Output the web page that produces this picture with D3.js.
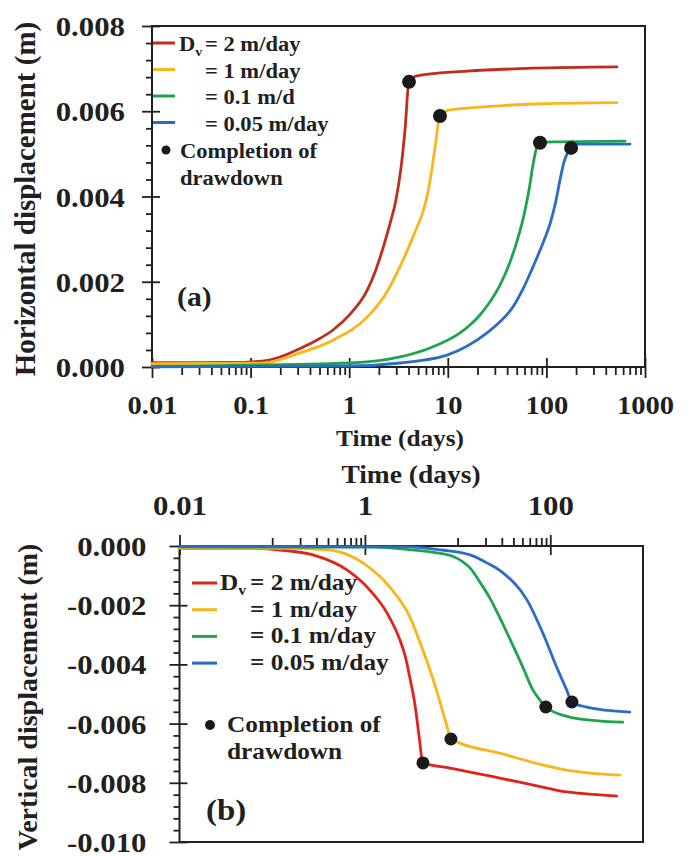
<!DOCTYPE html>
<html>
<head>
<meta charset="utf-8">
<script src="https://cdn.jsdelivr.net/npm/d3@7"></script>
<style>
  body { margin: 0; background: #fff; }
  svg { display: block; }
  text { font-family: "Liberation Serif", "Times New Roman", serif; font-weight: bold; fill: #231f20; }
</style>
</head>
<body>
<svg id="chart" width="692" height="856"></svg>
<script>
// ---- tick values ----
const timeTicksTop = [0.01, 0.1, 1, 10, 100, 1000];
const timeTicksBottom = [0.01, 1, 100];
const horizTicks = [0, 0.002, 0.004, 0.006, 0.008];
const vertTicks = [0, -0.002, -0.004, -0.006, -0.008, -0.010];

// ---- series labels (vertical hydraulic diffusivity) ----
const dvLabelsTop = ["2 m/day", "1 m/day", "0.1 m/d", "0.05 m/day"];
const dvLabelsBottom = ["2 m/day", "1 m/day", "0.1 m/day", "0.05 m/day"];
const colorsTop = ["#bf2e1d", "#fbb519", "#1fa44c", "#2a6cc6"];
const colorsBottom = ["#e2231a", "#fbb519", "#1fa44c", "#2a6cc6"];

// ---- horizontal displacement (m) vs time (days) ----
const hDv2 = [[0.01,0.0001],[0.062,0.000106],[0.131,0.00014],[0.199,0.000235],[0.317,0.000434],[0.472,0.000633],[0.685,0.000868],[1.02,0.00124],[1.52,0.0018],[1.83,0.00223],[2.2,0.00279],[2.59,0.00336],[2.98,0.00392],[3.35,0.00467],[3.68,0.00556],[4.04,0.00669],[4.87,0.00683],[15.7,0.00694],[73,0.00701],[520,0.00704]];
const hDv1 = [[0.01,0.00008],[0.131,0.00009],[0.317,0.00033],[0.685,0.00063],[1.52,0.00117],[2.31,0.00169],[3.27,0.00235],[4.87,0.00328],[5.47,0.00357],[6.15,0.004],[6.75,0.0045],[7.41,0.00514],[8.33,0.00589],[10.5,0.00603],[30,0.00612],[73,0.00617],[520,0.0062]];
const hDv01 = [[0.01,0.000012],[1.02,0.000094],[3.27,0.000235],[6.61,0.000446],[13.3,0.0008],[16.8,0.000985],[21.2,0.00122],[26.8,0.00153],[33.8,0.00192],[42.7,0.00246],[51.5,0.00303],[59.3,0.00357],[66.6,0.00415],[73.1,0.00474],[78.4,0.00509],[86.1,0.00526],[117,0.00528],[627,0.0053]];
const hDv005 = [[0.01,0.000005],[1.02,0.000023],[3.27,0.000094],[9.81,0.00028],[25,0.0008],[33.8,0.00106],[45.8,0.00141],[57.9,0.00183],[73.1,0.00235],[96.8,0.00303],[108.8,0.00336],[122.3,0.0038],[137.4,0.00439],[150.9,0.00481],[165.6,0.00504],[178,0.00514],[204,0.00523],[705,0.00523]];
const hDone = [[4.04,0.00669],[8.33,0.00589],[86.1,0.00526],[178,0.00514]];

// ---- vertical displacement (m) vs time (days) ----
const vDv2 = [[0.01,-0.00008],[0.058,-0.00008],[0.122,-0.000135],[0.275,-0.0003],[0.64,-0.00081],[1.13,-0.00149],[1.73,-0.00226],[2.39,-0.00318],[2.7,-0.00368],[3.06,-0.00446],[3.47,-0.00537],[3.83,-0.00639],[4.23,-0.00733],[8.3,-0.0075],[28.5,-0.00784],[64,-0.00807],[150,-0.00831],[341,-0.00841],[520,-0.00845]];
const vDv1 = [[0.01,-0.00007],[0.155,-0.00008],[0.42,-0.00014],[0.95,-0.00057],[1.86,-0.00139],[3.06,-0.0024],[4.2,-0.0035],[5.96,-0.0049],[7.7,-0.0061],[8.47,-0.00652],[28.5,-0.0070],[150,-0.00757],[267,-0.00767],[561,-0.00774]];
const vDv01 = [[0.01,-0.00003],[1.3,-0.00004],[2.91,-0.00012],[5.03,-0.0002],[8.68,-0.00034],[11.1,-0.00051],[13.6,-0.00074],[17.4,-0.00122],[22.3,-0.00176],[28.6,-0.00243],[36.6,-0.00314],[50.5,-0.00409],[64.8,-0.00486],[77.1,-0.0052],[89.4,-0.00544],[162,-0.00578],[267,-0.00588],[605,-0.00595]];
const vDv005 = [[0.01,-0.00002],[2.9,-0.00003],[6.7,-0.000135],[13.6,-0.0003],[20.7,-0.00057],[30.9,-0.00091],[56,-0.00182],[83,-0.00294],[117,-0.00409],[150,-0.00486],[171,-0.00527],[245,-0.00544],[720,-0.00561]];
const vDone = [[4.23,-0.00733],[8.47,-0.00652],[89.4,-0.00544],[171,-0.00527]];

const SX = 1.1; // horizontal stretch of the serif lettering
const svg = d3.select("#chart");
const ink = "#231f20";

function fmtTime(d) { return String(d); }
function fmtDisp(d) { return (d < 0 ? "-" : "") + Math.abs(d).toFixed(3); }

function minorLog(decades, mults) {
  const out = [];
  decades.forEach(b => mults.forEach(m => out.push(+(b * m).toPrecision(6))));
  return out;
}
function minorLin(lo, hi, step, majors) {
  const out = [];
  const n = Math.round((hi - lo) / step);
  for (let i = 0; i <= n; i++) {
    const v = +(lo + i * step).toFixed(6);
    if (!majors.some(m => Math.abs(m - v) < 1e-9)) out.push(v);
  }
  return out;
}

function styleAxis(g) {
  g.select(".domain").remove();
  g.selectAll(".tick line").attr("stroke", ink).attr("stroke-width", 1.8);
}

function stretched(g, x, y, str, size, anchor) {
  return g.append("text")
    .attr("transform", `translate(${x},${y}) scale(${SX},1)`)
    .attr("text-anchor", anchor || "start")
    .attr("font-size", size)
    .text(str);
}

function drawPanel(p) {
  const g = svg.append("g");
  const x = d3.scaleLog().domain([0.01, 1000]).range(p.xr);
  const y = d3.scaleLinear().domain(p.yd).range(p.yr);

  // time axis (bottom or top)
  const tAxis = p.timeOnTop ? d3.axisTop : d3.axisBottom;
  const ty = p.timeOnTop ? p.yr[1] : p.yr[0];
  const gMinor = g.append("g").attr("transform", `translate(0,${ty})`)
    .call(tAxis(x).tickValues(p.minorT).tickSize(8).tickFormat(""));
  styleAxis(gMinor);
  const gIn = g.append("g").attr("transform", `translate(0,${ty})`)
    .call(tAxis(x).tickValues(p.majorT).tickSize(-9).tickFormat(""));
  styleAxis(gIn);
  const gT = g.append("g").attr("transform", `translate(0,${ty})`)
    .call(tAxis(x).tickValues(p.majorT).tickSize(11).tickFormat(fmtTime));
  styleAxis(gT);
  gT.selectAll(".tick text")
    .attr("y", null).attr("dy", null)
    .attr("font-size", p.tFont).attr("fill", ink)
    .attr("transform", `translate(0,${p.tLabelDy}) scale(${SX},1)`);

  // displacement axis (left)
  const gYm = g.append("g").attr("transform", `translate(${p.xr[0]},0)`)
    .call(d3.axisLeft(y).tickValues(p.minorY).tickSize(6).tickFormat(""));
  styleAxis(gYm);
  const gYi = g.append("g").attr("transform", `translate(${p.xr[0]},0)`)
    .call(d3.axisLeft(y).tickValues(p.majorY).tickSize(-8).tickFormat(""));
  styleAxis(gYi);
  const gY = g.append("g").attr("transform", `translate(${p.xr[0]},0)`)
    .call(d3.axisLeft(y).tickValues(p.majorY).tickSize(10).tickFormat(fmtDisp));
  styleAxis(gY);
  gY.selectAll(".tick text")
    .attr("x", null).attr("dy", "0.34em")
    .attr("font-size", p.yFont).attr("fill", ink)
    .attr("transform", `translate(${-p.yLabelGap},0) scale(${SX},1)`);

  // frame
  g.append("rect")
    .attr("x", p.xr[0]).attr("y", p.yr[1])
    .attr("width", p.xr[1] - p.xr[0]).attr("height", p.yr[0] - p.yr[1])
    .attr("fill", "none").attr("stroke", ink).attr("stroke-width", 2);

  // curves
  const line = d3.line().x(d => x(d[0])).y(d => y(d[1])).curve(d3.curveMonotoneX);
  p.series.forEach((s, i) => {
    g.append("path").datum(s).attr("d", line)
      .attr("fill", "none").attr("stroke", p.colors[i])
      .attr("stroke-width", 2.8).attr("stroke-linecap", "round");
  });
  g.selectAll("circle.done").data(p.done).join("circle")
    .attr("class", "done")
    .attr("cx", d => x(d[0])).attr("cy", d => y(d[1]))
    .attr("r", p.dotR).attr("fill", "#1a1a1a");

  // axis titles
  stretched(g, p.tTitle[0], p.tTitle[1], "Time (days)", p.tTitleFont, "middle");
  g.append("text")
    .attr("transform", `translate(${p.yTitle[0]},${p.yTitle[1]}) rotate(-90)`)
    .attr("text-anchor", "middle").attr("font-size", p.yTitleFont)
    .text(p.yTitleText);

  // panel tag
  stretched(g, p.tag[0], p.tag[1], p.tagText, p.tagFont, "start");

  // legend
  const L = p.legend;
  p.labels.forEach((lab, i) => {
    const ly = L.y0 + i * L.dy;
    g.append("line").attr("x1", L.x0).attr("x2", L.x1).attr("y1", ly).attr("y2", ly)
      .attr("stroke", p.colors[i]).attr("stroke-width", 3);
    if (i === 0) {
      const t = g.append("text")
        .attr("transform", `translate(${L.dx},${ly + L.base}) scale(${SX},1)`)
        .attr("font-size", L.font);
      t.append("tspan").text("D");
      t.append("tspan").attr("font-size", L.font * 0.62).attr("dy", L.font * 0.22).text("v");
    }
    stretched(g, L.eqx, ly + L.base, "= " + lab, L.font, "start");
  });
  g.append("circle").attr("cx", L.dotX).attr("cy", L.dotY).attr("r", L.dotR).attr("fill", "#1a1a1a");
  stretched(g, L.cx, L.dotY + L.base, "Completion of", L.font, "start");
  stretched(g, L.cx, L.dotY + L.base + L.dy, "drawdown", L.font, "start");
}

// (a) horizontal displacement
drawPanel({
  xr: [152, 645], yd: [0, 0.008], yr: [367, 26],
  timeOnTop: false,
  majorT: timeTicksTop,
  minorT: minorLog([0.01, 0.1, 1, 10, 100], [2, 3, 4, 5, 6, 7, 8, 9]),
  majorY: horizTicks,
  minorY: minorLin(0, 0.008, 0.0004, horizTicks),
  tFont: 26, tLabelDy: 47,
  yFont: 28, yLabelGap: 27,
  series: [hDv2, hDv1, hDv01, hDv005], done: hDone, dotR: 7,
  colors: colorsTop, labels: dvLabelsTop,
  tTitle: [400, 446], tTitleFont: 23,
  yTitle: [35, 199], yTitleFont: 29, yTitleText: "Horizontal displacement (m)",
  tag: [177, 306], tagText: "(a)", tagFont: 27,
  legend: { x0: 153, x1: 175, y0: 43, dy: 26.5, base: 8, dx: 179, eqx: 205, font: 20.5,
            dotX: 166, dotY: 150, dotR: 4.5, cx: 180 }
});

// (b) vertical displacement
drawPanel({
  xr: [179.5, 643], yd: [-0.010, 0], yr: [842, 546],
  timeOnTop: true,
  majorT: timeTicksBottom,
  minorT: minorLog([0.1, 10], [1, 2, 3, 4, 5, 6, 7, 8, 9]),
  majorY: vertTicks,
  minorY: minorLin(-0.010, 0, 0.0004, vertTicks),
  tFont: 28, tLabelDy: -31,
  yFont: 28, yLabelGap: 33,
  series: [vDv2, vDv1, vDv01, vDv005], done: vDone, dotR: 6.5,
  colors: colorsBottom, labels: dvLabelsBottom,
  tTitle: [411, 483], tTitleFont: 25,
  yTitle: [37, 697], yTitleFont: 28, yTitleText: "Vertical displacement (m)",
  tag: [206, 820], tagText: "(b)", tagFont: 30,
  legend: { x0: 192, x1: 217, y0: 583, dy: 26.7, base: 7, dx: 220, eqx: 250, font: 23,
            dotX: 210, dotY: 725, dotR: 5, cx: 227 }
});
</script>
</body>
</html>
